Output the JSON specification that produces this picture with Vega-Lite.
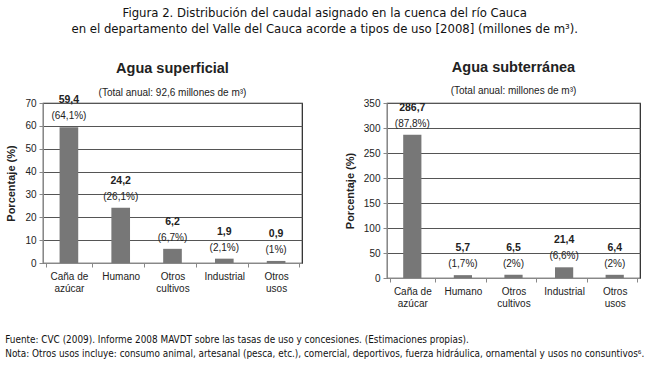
{
  "$schema": "https://vega.github.io/schema/vega-lite/v6.json",
  "padding": {"left": 5, "top": 6, "right": 5, "bottom": 5},
  "background": "white",
  "title": {
    "text": ["Figura 2. Distribución del caudal asignado en la cuenca del río Cauca", "en el departamento del Valle del Cauca acorde a tipos de uso [2008] (millones de m³)."],
    "font": "Liberation Sans Narrow, DejaVu Sans Condensed",
    "fontSize": 13,
    "fontWeight": "normal",
    "color": "#111",
    "anchor": "middle",
    "lineHeight": 16,
    "offset": 23
  },
  "datasets": {
    "sup": [
      {"uso": "Caña de|azúcar", "valor": 59.4, "etiqueta": "59,4", "pct": "(64,1%)"},
      {"uso": "Humano", "valor": 24.2, "etiqueta": "24,2", "pct": "(26,1%)"},
      {"uso": "Otros|cultivos", "valor": 6.2, "etiqueta": "6,2", "pct": "(6,7%)"},
      {"uso": "Industrial", "valor": 1.9, "etiqueta": "1,9", "pct": "(2,1%)"},
      {"uso": "Otros|usos", "valor": 0.9, "etiqueta": "0,9", "pct": "(1%)"}
    ],
    "sub": [
      {"uso": "Caña de|azúcar", "valor": 286.7, "etiqueta": "286,7", "pct": "(87,8%)"},
      {"uso": "Humano", "valor": 5.7, "etiqueta": "5,7", "pct": "(1,7%)"},
      {"uso": "Otros|cultivos", "valor": 6.5, "etiqueta": "6,5", "pct": "(2%)"},
      {"uso": "Industrial", "valor": 21.4, "etiqueta": "21,4", "pct": "(6,6%)"},
      {"uso": "Otros|usos", "valor": 6.4, "etiqueta": "6,4", "pct": "(2%)"}
    ]
  },
  "vconcat": [
    {
      "title": {
        "text": ["Fuente: CVC (2009). Informe 2008 MAVDT sobre las tasas de uso y concesiones. (Estimaciones propias).", "Nota: Otros usos incluye: consumo animal, artesanal (pesca, etc.), comercial, deportivos, fuerza hidráulica, ornamental y usos no consuntivos⁶."],
        "orient": "bottom",
        "anchor": "start",
        "frame": "bounds",
        "font": "Liberation Sans Narrow, DejaVu Sans Condensed",
        "fontSize": 9.9,
        "fontWeight": "normal",
        "color": "#111",
        "lineHeight": 14,
        "offset": 26
      },
      "spacing": 40,
      "hconcat": [
        {
          "width": 259,
          "height": 160,
          "title": {"text": "Agua superficial", "subtitle": "(Total anual: 92,6 millones de m³)", "offset": -4, "subtitlePadding": 12},
          "data": {"name": "sup"},
          "encoding": {
            "x": {"field": "uso", "type": "nominal", "sort": null, "title": null},
            "y": {"field": "valor", "type": "quantitative", "scale": {"domain": [0, 70]}, "axis": {"values": [0, 10, 20, 30, 40, 50, 60, 70], "tickCount": 8}, "title": "Porcentaje (%)"}
          },
          "layer": [
            {
              "mark": {"type": "bar", "color": "#777777", "width": {"band": 0.4}}
            },
            {
              "mark": {"type": "text", "fontWeight": "bold", "dy": -27, "fontSize": 10.5},
              "encoding": {"text": {"field": "etiqueta"}}
            },
            {
              "mark": {"type": "text", "dy": -11, "fontSize": 10},
              "encoding": {"text": {"field": "pct"}}
            }
          ]
        },
        {
          "width": 253,
          "height": 175,
          "title": {"text": "Agua subterránea", "subtitle": "(Total anual: millones de m³)", "offset": 1, "subtitlePadding": 11},
          "data": {"name": "sub"},
          "encoding": {
            "x": {"field": "uso", "type": "nominal", "sort": null, "title": null},
            "y": {"field": "valor", "type": "quantitative", "scale": {"domain": [0, 350]}, "axis": {"values": [0, 50, 100, 150, 200, 250, 300, 350], "tickCount": 8}, "title": "Porcentaje (%)"}
          },
          "layer": [
            {
              "mark": {"type": "bar", "color": "#777777", "width": {"band": 0.4}}
            },
            {
              "mark": {"type": "text", "fontWeight": "bold", "dy": -27, "fontSize": 10.5},
              "encoding": {"text": {"field": "etiqueta"}}
            },
            {
              "mark": {"type": "text", "dy": -11, "fontSize": 10},
              "encoding": {"text": {"field": "pct"}}
            }
          ]
        }
      ]
    }
  ],
  "config": {
    "font": "Liberation Sans",
    "view": {"stroke": "#222", "strokeWidth": 1.2},
    "text": {"color": "#222", "font": "Liberation Sans", "baseline": "middle"},
    "title": {"fontSize": 14.5, "fontWeight": "bold", "color": "#222", "font": "Liberation Sans", "subtitleFontSize": 10, "subtitleColor": "#222", "subtitleFont": "Liberation Sans", "subtitlePadding": 12, "anchor": "middle"},
    "axis": {"labelFont": "Liberation Sans", "labelFontSize": 10, "labelColor": "#222", "titleFont": "Liberation Sans", "titleFontSize": 11, "titleFontWeight": "bold", "titleColor": "#222", "domainColor": "#888", "tickColor": "#888", "tickSize": 4},
    "axisY": {"gridColor": "#555", "gridWidth": 1, "labelPadding": 3, "titlePadding": 8},
    "axisX": {"labelAngle": 0, "tickBand": "extent", "grid": false, "labelExpr": "split(datum.label, '|')", "labelPadding": 4, "labelLineHeight": 12, "labelBaseline": "top"}
  }
}
